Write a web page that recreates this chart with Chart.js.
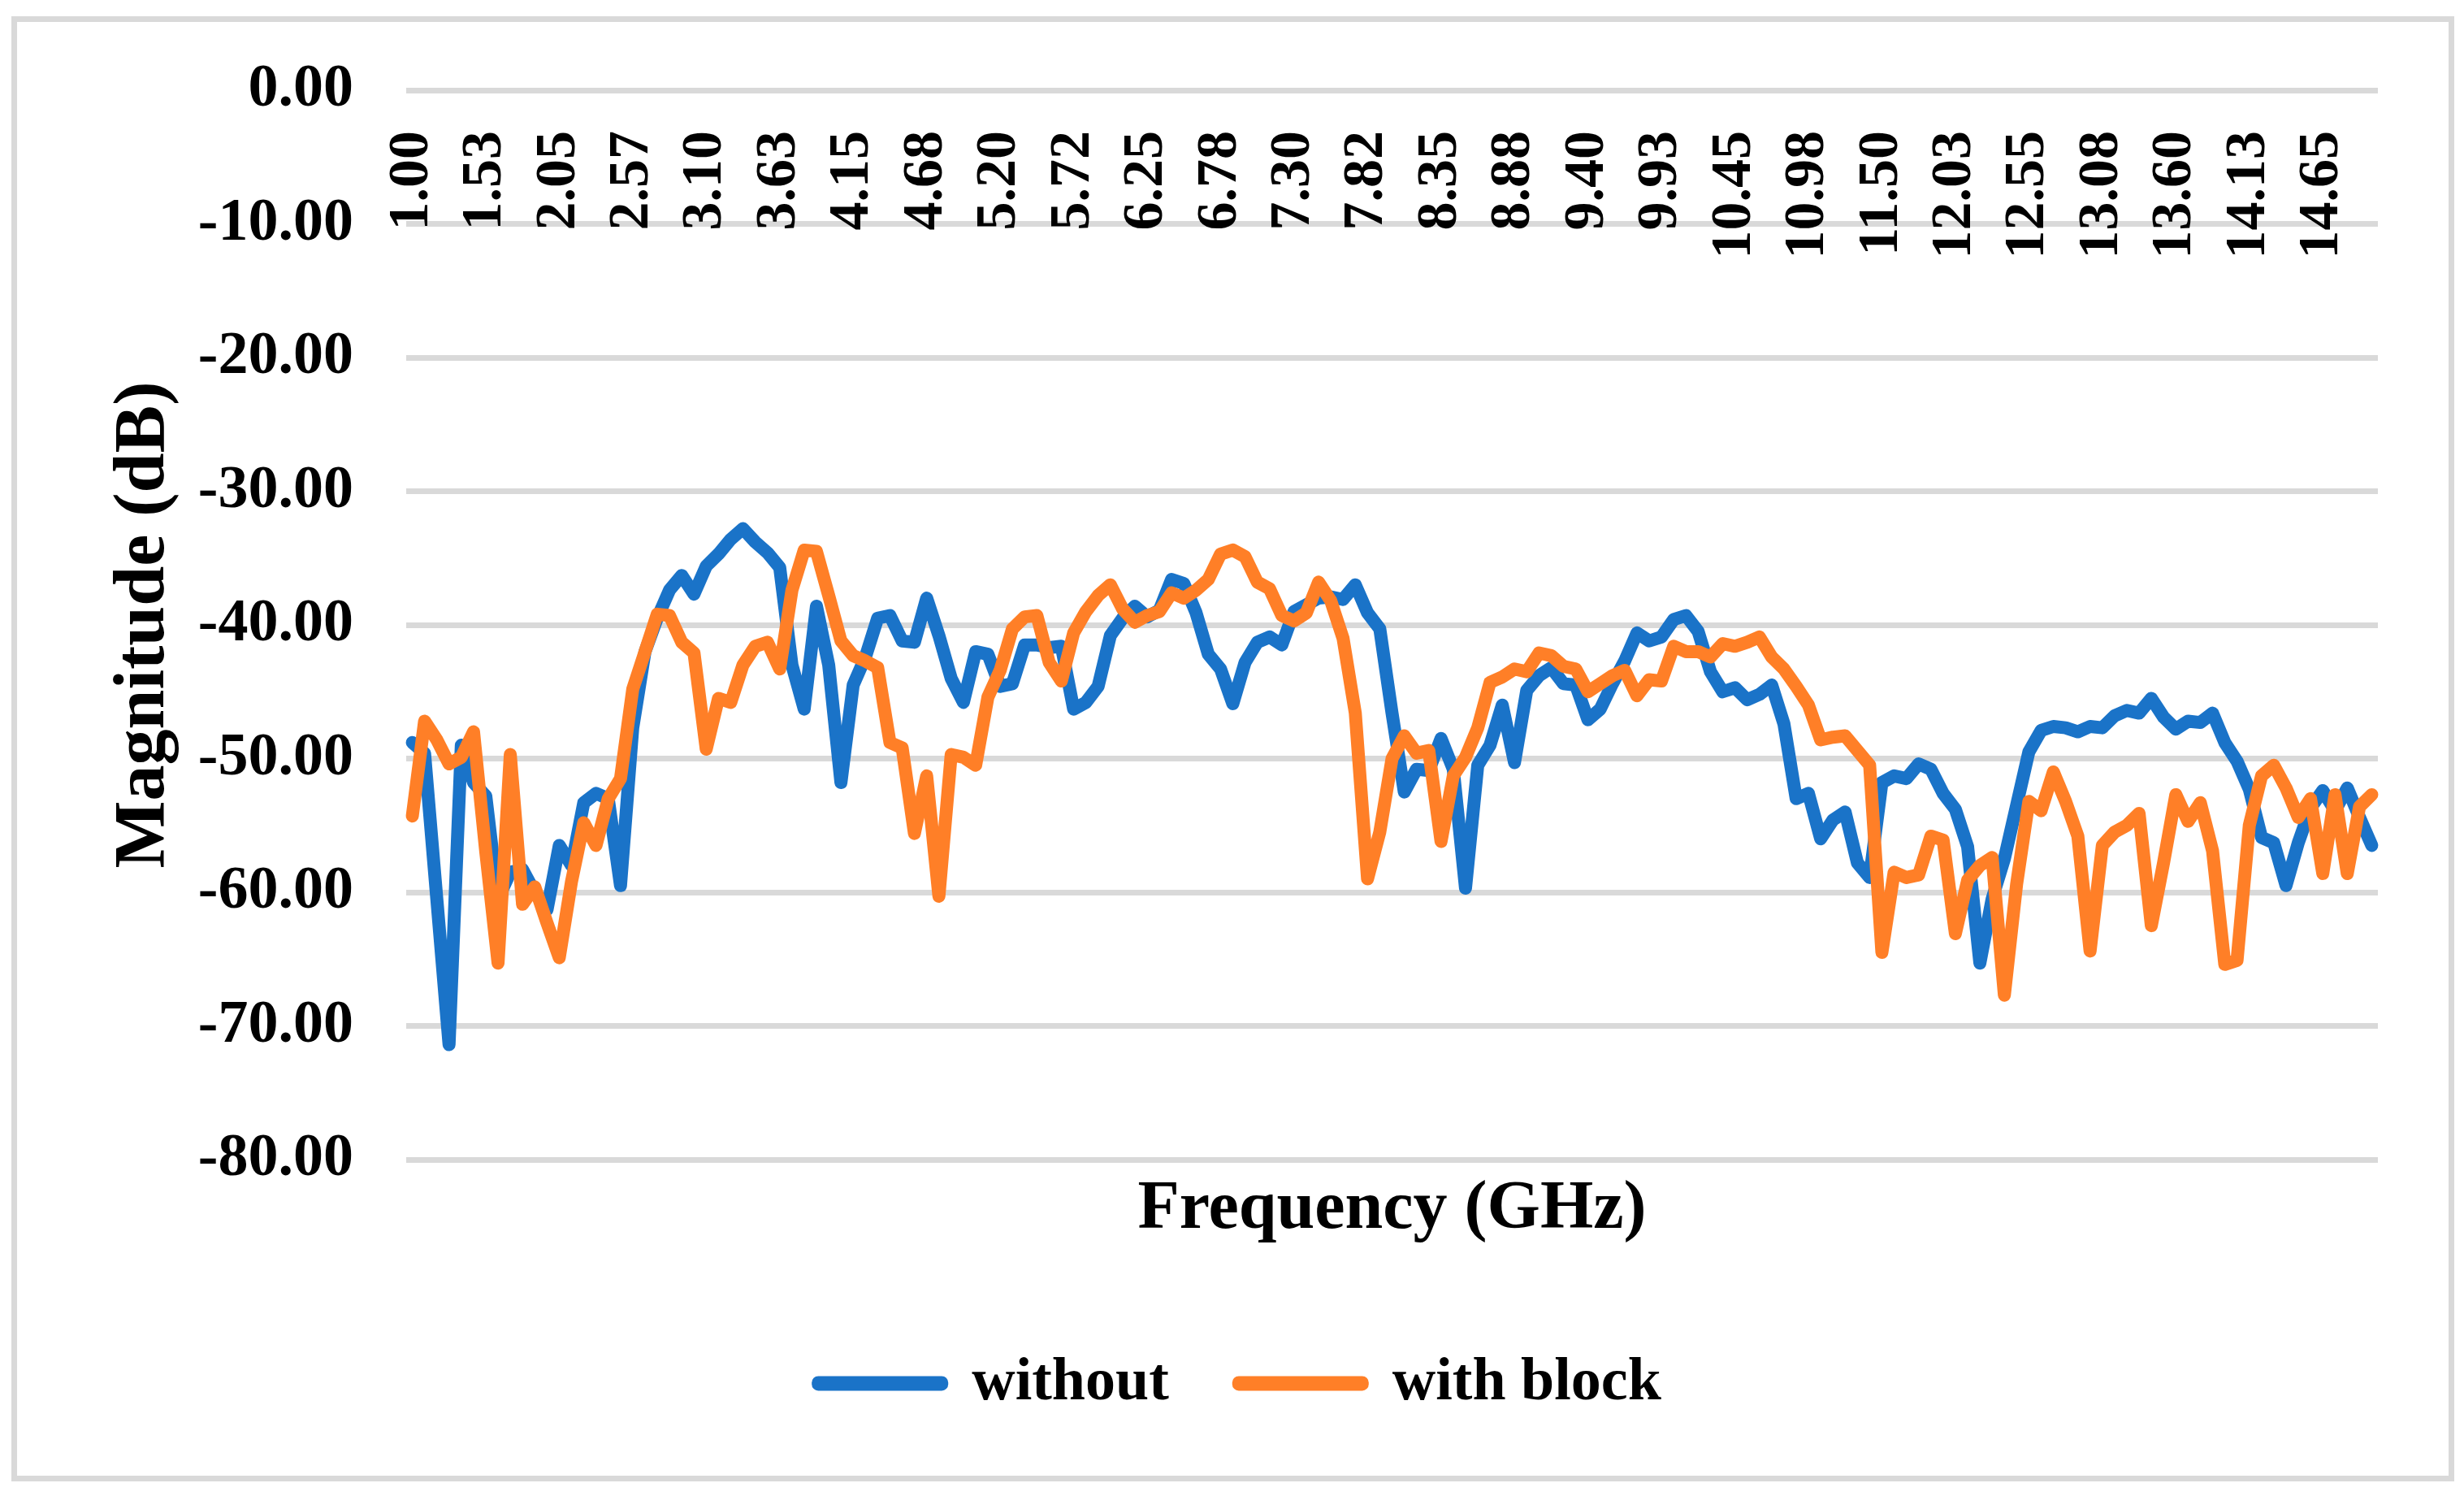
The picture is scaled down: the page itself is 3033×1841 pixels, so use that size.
<!DOCTYPE html>
<html>
<head>
<meta charset="utf-8">
<title>Magnitude vs Frequency</title>
<script src="https://cdn.jsdelivr.net/npm/chart.js@4.4.1/dist/chart.umd.min.js"></script>
<style>
	html, body { margin: 0; padding: 0; background: #ffffff; }
	#wrap { position: relative; width: 3033px; height: 1841px; }
	#frame { position: absolute; left: 14px; top: 20px; width: 3007px; height: 1803px; border: 7px solid #d9d9d9; box-sizing: border-box; pointer-events: none; }
</style>
</head>
<body>
<div id="wrap">
	<canvas id="magnitudeChart" width="3033" height="1841"></canvas>
	<div id="frame"></div>
</div>
<script>

// frequency sweep (GHz): 1.00 to 15.00 in 0.0875 steps
const freqStart = 1.0;
const freqStep = 0.0875;
const pointCount = 161;
const labelEvery = 6;

const tickLabels = [ '1.00', '1.53', '2.05', '2.57', '3.10', '3.63', '4.15', '4.68', '5.20',
	'5.72', '6.25', '6.78', '7.30', '7.82', '8.35', '8.88', '9.40', '9.93', '10.45',
	'10.98', '11.50', '12.03', '12.55', '13.08', '13.60', '14.13', '14.65' ];

const withoutValues = [
	-48.8, -49.6, -60.5, -71.4, -49.0, -51.8, -52.8, -60.5, -58.5, -58.3,
	-60.0, -61.3, -56.5, -58.0, -53.3, -52.6, -53.0, -59.5, -47.7, -42.0,
	-39.5, -37.4, -36.3, -37.7, -35.6, -34.7, -33.6, -32.8, -33.8, -34.6,
	-35.7, -43.0, -46.3, -38.6, -43.0, -51.8, -44.5, -42.4, -39.5, -39.3,
	-41.2, -41.3, -38.0, -40.8, -44.0, -45.8, -42.0, -42.2, -44.6, -44.4,
	-41.5, -41.5, -41.7, -41.6, -46.3, -45.8, -44.6, -40.8, -39.5, -38.6,
	-39.4, -38.9, -36.6, -36.9, -39.1, -42.2, -43.3, -45.9, -42.8, -41.3,
	-40.9, -41.5, -39.0, -38.5, -38.0, -37.9, -38.1, -37.0, -39.1, -40.3,
	-46.6, -52.5, -50.8, -50.9, -48.5, -50.8, -59.7, -50.5, -49.0, -46.0,
	-50.3, -44.9, -43.8, -43.2, -44.4, -44.5, -47.1, -46.3, -44.4, -42.7,
	-40.6, -41.2, -40.9, -39.6, -39.3, -40.5, -43.5, -45.0, -44.7, -45.6,
	-45.2, -44.5, -47.4, -53.0, -52.6, -56.0, -54.6, -54.0, -57.8, -58.9,
	-51.8, -51.3, -51.5, -50.4, -50.8, -52.6, -53.8, -56.6, -65.3, -60.5,
	-57.5, -53.5, -49.5, -47.9, -47.6, -47.7, -48.0, -47.6, -47.7, -46.8,
	-46.4, -46.6, -45.5, -46.9, -47.8, -47.2, -47.3, -46.6, -48.8, -50.2,
	-52.3, -55.9, -56.3, -59.5, -56.3, -53.7, -52.4, -53.9, -52.2, -54.4,
	-56.5
];

const withBlockValues = [
	-54.3, -47.2, -48.6, -50.4, -49.9, -48.0, -57.0, -65.3, -49.7, -60.9,
	-59.6, -62.3, -64.9, -59.2, -54.8, -56.5, -53.0, -51.5, -44.8, -42.0,
	-39.2, -39.3, -41.3, -42.1, -49.3, -45.5, -45.8, -43.0, -41.6, -41.3,
	-43.3, -37.4, -34.4, -34.5, -37.8, -41.2, -42.3, -42.7, -43.2, -48.8,
	-49.2, -55.6, -51.3, -60.3, -49.7, -49.9, -50.5, -45.4, -43.4, -40.3,
	-39.4, -39.3, -42.8, -44.2, -40.6, -39.0, -37.8, -37.0, -38.8, -39.8,
	-39.3, -39.0, -37.6, -38.0, -37.4, -36.6, -34.7, -34.4, -34.9, -36.8,
	-37.3, -39.3, -39.7, -39.1, -36.8, -38.2, -41.0, -46.6, -59.0, -55.5,
	-50.0, -48.3, -49.6, -49.4, -56.2, -51.3, -49.9, -47.7, -44.3, -43.9,
	-43.3, -43.5, -42.1, -42.3, -43.1, -43.3, -45.0, -44.4, -43.8, -43.4,
	-45.3, -44.1, -44.2, -41.6, -42.0, -42.0, -42.4, -41.4, -41.6, -41.3,
	-40.9, -42.4, -43.3, -44.6, -46.0, -48.6, -48.4, -48.3, -49.4, -50.5,
	-64.5, -58.5, -58.9, -58.7, -55.8, -56.1, -63.1, -59.1, -58.0, -57.4,
	-67.7, -59.4, -53.2, -53.9, -51.0, -53.2, -55.8, -64.4, -56.5, -55.5,
	-55.0, -54.1, -62.5, -57.8, -52.7, -54.7, -53.3, -56.9, -65.4, -65.1,
	-55.0, -51.3, -50.5, -52.2, -54.4, -53.0, -58.6, -52.7, -58.6, -53.6,
	-52.7
];

const categories = [];
for (let i = 0; i < pointCount; i++) {
	categories.push((freqStart + i * freqStep).toFixed(4));
}

const serif = "'Liberation Serif', 'Times New Roman', serif";

function addMagnitudeChart() {

	let ctx = document.getElementById('magnitudeChart').getContext('2d');
	let myLineChart = new Chart(ctx, {
		type: 'line',
		data: {
			labels: categories,
			datasets: [{
				label: 'without',
				data: withoutValues,
				borderColor: '#1a73c8',
				backgroundColor: '#1a73c8',
				borderWidth: 16,
				borderJoinStyle: 'round',
				borderCapStyle: 'round',
				pointRadius: 0,
				tension: 0,
				order: 1,
			}, {
				label: 'with block',
				data: withBlockValues,
				borderColor: '#ff7f27',
				backgroundColor: '#ff7f27',
				borderWidth: 16,
				borderJoinStyle: 'round',
				borderCapStyle: 'round',
				pointRadius: 0,
				tension: 0,
				order: 0,
			}],
		},
		options: {
			responsive: false,
			devicePixelRatio: 1,
			animation: false,
			layout: {
				padding: { left: 125, right: 106, top: 111, bottom: 91.6 },
			},
			scales: {
				x: {
					type: 'category',
					position: { y: 0 },
					offset: true,
					grid: { display: false, drawTicks: false },
					border: { display: false },
					ticks: {
						autoSkip: false,
						minRotation: 90,
						maxRotation: 90,
						padding: 50,
						color: '#000000',
						font: { family: serif, size: 70, weight: 'bold' },
						callback: function(value, index) {
							return index % labelEvery === 0 ? tickLabels[index / labelEvery] : '';
						},
					},
					afterFit: function(scale) {
						scale.paddingLeft = 0;
						scale.paddingRight = 0;
					},
				},
				x2: {
					type: 'category',
					position: 'bottom',
					offset: true,
					grid: { display: false, drawTicks: false },
					border: { display: false },
					ticks: { display: false },
					title: {
						display: true,
						text: 'Frequency (GHz)',
						color: '#000000',
						font: { family: serif, size: 84, weight: 'bold', lineHeight: 1.2 },
						padding: { top: 0, bottom: 40 },
					},
					afterFit: function(scale) {
						scale.height = 152.4;
						scale.paddingLeft = 0;
						scale.paddingRight = 0;
					},
				},
				y: {
					min: -80,
					max: 0,
					grid: { color: '#d9d9d9', lineWidth: 7, drawTicks: false },
					border: { display: false },
					ticks: {
						stepSize: 10,
						padding: 65,
						color: '#000000',
						font: { family: serif, size: 74, weight: 'bold' },
						callback: function(value) { return value.toFixed(2); },
					},
					title: {
						display: true,
						text: 'Magnitude (dB)',
						color: '#000000',
						font: { family: serif, size: 88, weight: 'bold', lineHeight: 1.2 },
						padding: 0,
					},
					afterFit: function(scale) { scale.width = 375; },
				},
			},
			plugins: {
				legend: {
					position: 'bottom',
					labels: {
						boxWidth: 152,
						boxHeight: 2,
						padding: 86,
						color: '#000000',
						font: { family: serif, size: 74, weight: 'bold' },
						sort: function(a, b) { return a.datasetIndex - b.datasetIndex; },
					},
				},
				tooltip: { enabled: false },
			},
		},
	});

}

addMagnitudeChart();

</script>
</body>
</html>
